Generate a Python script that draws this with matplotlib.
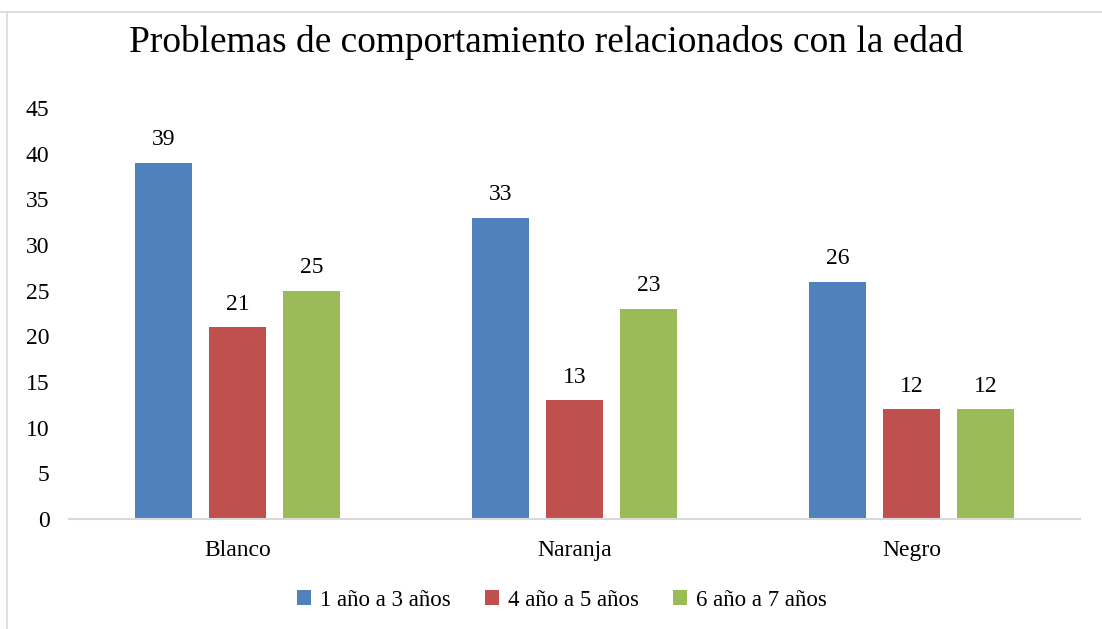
import numpy as np
import matplotlib.pyplot as plt
from matplotlib.lines import Line2D

categories = ['Blanco', 'Naranja', 'Negro']
series_names = ['1 año a 3 años', '4 año a 5 años', '6 año a 7 años']
vals_1a3 = [39, 33, 26]
vals_4a5 = [21, 13, 12]
vals_6a7 = [25, 23, 12]
y_ticks = [0, 5, 10, 15, 20, 25, 30, 35, 40, 45]

colors = ['#4F81BD', '#C0504D', '#9BBB59']

plt.rcParams['font.family'] = ['Liberation Serif', 'DejaVu Serif']

fig = plt.figure(figsize=(11.02, 6.29), dpi=100)
ax = fig.add_axes([69 / 1102, 1 - 519 / 629, (1080 - 69) / 1102, (519 - 108) / 629])

x = np.arange(len(categories))
width = 0.169
step = 0.22
for i, (vals, name) in enumerate(zip([vals_1a3, vals_4a5, vals_6a7], series_names)):
    bars = ax.bar(x + (i - 1) * step, vals, width, color=colors[i], label=name, zorder=2)
    for b, v in zip(bars, vals):
        ax.annotate(str(v), (b.get_x() + b.get_width() / 2, v),
                    xytext=(0, 9), textcoords='offset points',
                    ha='center', va='bottom', fontsize=17)

ax.set_xlim(-0.5, len(categories) - 0.5)
ax.set_ylim(0, 45)
ax.set_yticks(y_ticks)
ax.set_xticks(x)
ax.set_xticklabels(categories)
ax.tick_params(axis='both', length=0, labelsize=17)
ax.tick_params(axis='y', pad=14)
ax.tick_params(axis='x', pad=15)
for side in ['top', 'right', 'left']:
    ax.spines[side].set_visible(False)
ax.spines['bottom'].set_color('#D9D9D9')
ax.spines['bottom'].set_linewidth(1.5)

fig.text(546 / 1102, 1 - 42 / 629, 'Problemas de comportamiento relacionados con la edad',
         ha='center', va='center', fontsize=26.9)

ax.legend(loc='center', bbox_to_anchor=(562 / 1102, 1 - 600 / 629),
          bbox_transform=fig.transFigure, ncol=3, frameon=False, fontsize=16.5,
          handlelength=0.6, handleheight=0.6, handletextpad=0.4, columnspacing=1.5)

# chart frame lines
fig.add_artist(Line2D([0, 1], [1 - 12 / 629, 1 - 12 / 629], color='#D9D9D9', lw=1.2,
                      transform=fig.transFigure))
fig.add_artist(Line2D([7 / 1102, 7 / 1102], [0, 1 - 12 / 629], color='#D9D9D9', lw=1.2,
                      transform=fig.transFigure))

fig.savefig('out.png', dpi=100)
